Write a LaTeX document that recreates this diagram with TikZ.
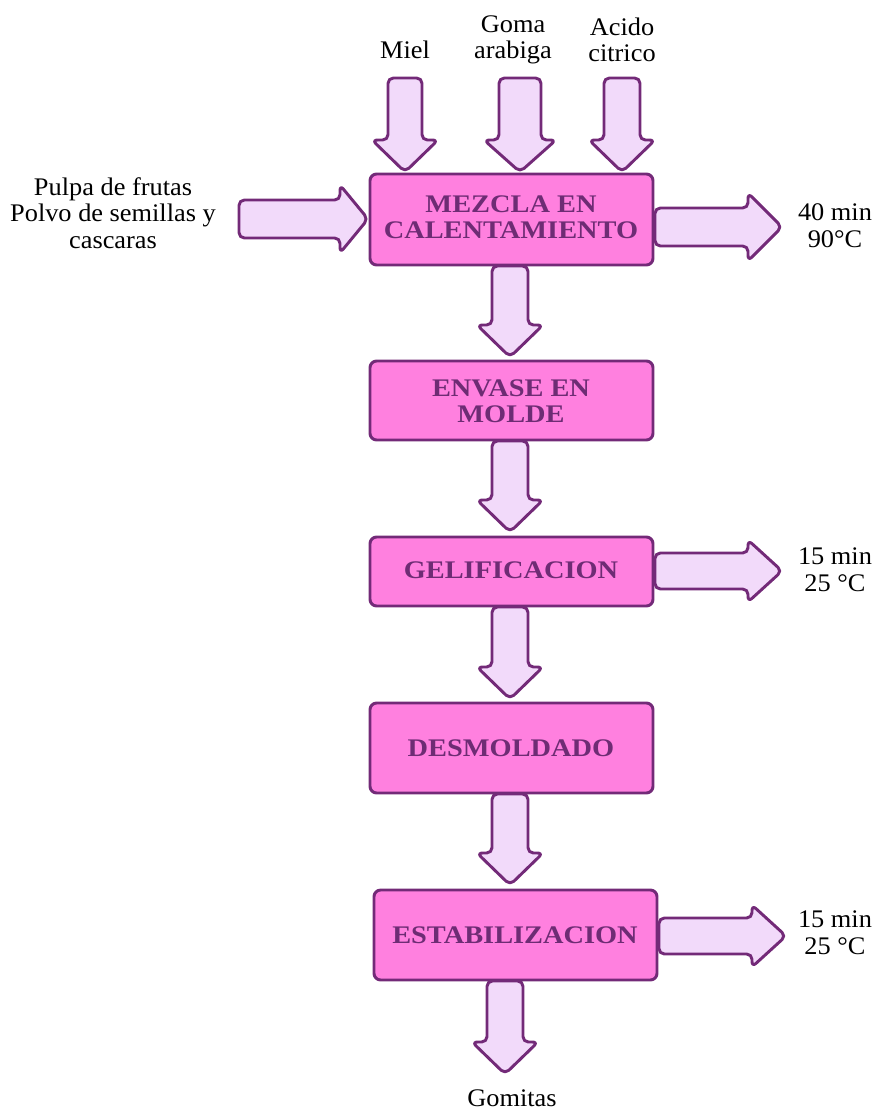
\documentclass[tikz,border=0pt]{standalone}
\usepackage{fontspec}
\setmainfont{Liberation Serif}
\newfontfamily\stagefont[FakeStretch=1.12]{Liberation Serif}
\newfontfamily\notefont[FakeStretch=1.04]{Liberation Serif}
\definecolor{boxfill}{HTML}{FF80DF}
\definecolor{edge}{HTML}{732A78}
\definecolor{arrowfill}{HTML}{F2DAFA}
\definecolor{boxtext}{HTML}{6E2C74}
\tikzset{
  stepbox/.style={draw=edge, fill=boxfill, line width=2.2pt, rounded corners=5pt},
  boxlabel/.style={text=boxtext, font=\stagefont\fontsize{19}{19.5}\selectfont\bfseries, align=center},
  plain/.style={font=\notefont\fontsize{19}{20}\selectfont, align=center, text=black},
  fatarrow/.style={draw=edge, fill=arrowfill, line width=2.2pt, rounded corners=4pt, line join=round},
}
% downward block arrow: centre x, top y, neck y, tip y, half shaft width, half head width
\newcommand\fatdown[6]{%
  \draw[fatarrow] (#1-#5,#2) -- (#1+#5,#2) -- (#1+#5,#3) -- (#1+#6,#3) -- (#1,#4)
    -- (#1-#6,#3) -- (#1-#5,#3) -- cycle;}
% rightward block arrow: left x, neck x, tip x, centre y, half shaft height, half head height
\newcommand\fatright[6]{%
  \draw[fatarrow] (#1,#4-#5) -- (#2,#4-#5) -- (#2,#4-#6) -- (#3,#4) -- (#2,#4+#6)
    -- (#2,#4+#5) -- (#1,#4+#5) -- cycle;}
\begin{document}
\begin{tikzpicture}[x=0.75pt, y=-0.75pt]
\useasboundingbox (0,0) rectangle (876,1110);

% feed arrows into the mixing stage
\fatdown{405}{78}{140}{172}{17}{33}
\fatdown{520}{78}{140}{172}{21}{36}
\fatdown{622}{78}{140}{172}{18}{33}
\fatright{239}{340}{368}{219}{19}{34}

% process stages
\draw[stepbox] (370,174) rectangle (653,265);
\node[boxlabel] (mezcla) at (511,217) {MEZCLA EN\\CALENTAMIENTO};
\draw[stepbox] (370,361) rectangle (653,440);
\node[boxlabel] (envase) at (511,401) {ENVASE EN\\MOLDE};
\draw[stepbox] (370,537) rectangle (653,606);
\node[boxlabel] (gel) at (511,570) {GELIFICACION};
\draw[stepbox] (370,703) rectangle (653,793);
\node[boxlabel] (desm) at (511,748) {DESMOLDADO};
\draw[stepbox] (374,890) rectangle (657,980);
\node[boxlabel] (estab) at (515,935) {ESTABILIZACION};

% flow between stages
\fatdown{510}{266}{325}{357}{18}{33}
\fatdown{510}{441}{500}{532}{18}{33}
\fatdown{510}{607}{667}{699}{18}{33}
\fatdown{510}{794}{853}{885}{18}{33}
\fatdown{505}{981}{1042}{1074}{18}{33}

% conditions leaving stages
\fatright{655}{748}{782}{227}{19}{34}
\fatright{655}{748}{782}{571}{18}{31}
\fatright{659}{752}{786}{936}{18}{31}

% labels
\node[plain] (miel) at (405,50) {Miel};
\node[plain] (goma) at (513,40) {Goma\\arabiga};
\node[plain] (acido) at (622,40) {Acido\\citrico};
\node[plain] (pulpa) at (113,213) {Pulpa de frutas\\Polvo de semillas y\\cascaras};
\node[plain] (t1) at (835,226) {40 min\\90°C};
\node[plain] (t2) at (835,570) {15 min\\25 °C};
\node[plain] (t3) at (835,933) {15 min\\25 °C};
\node[plain] (gomitas) at (512,1098) {Gomitas};
\end{tikzpicture}
\end{document}
